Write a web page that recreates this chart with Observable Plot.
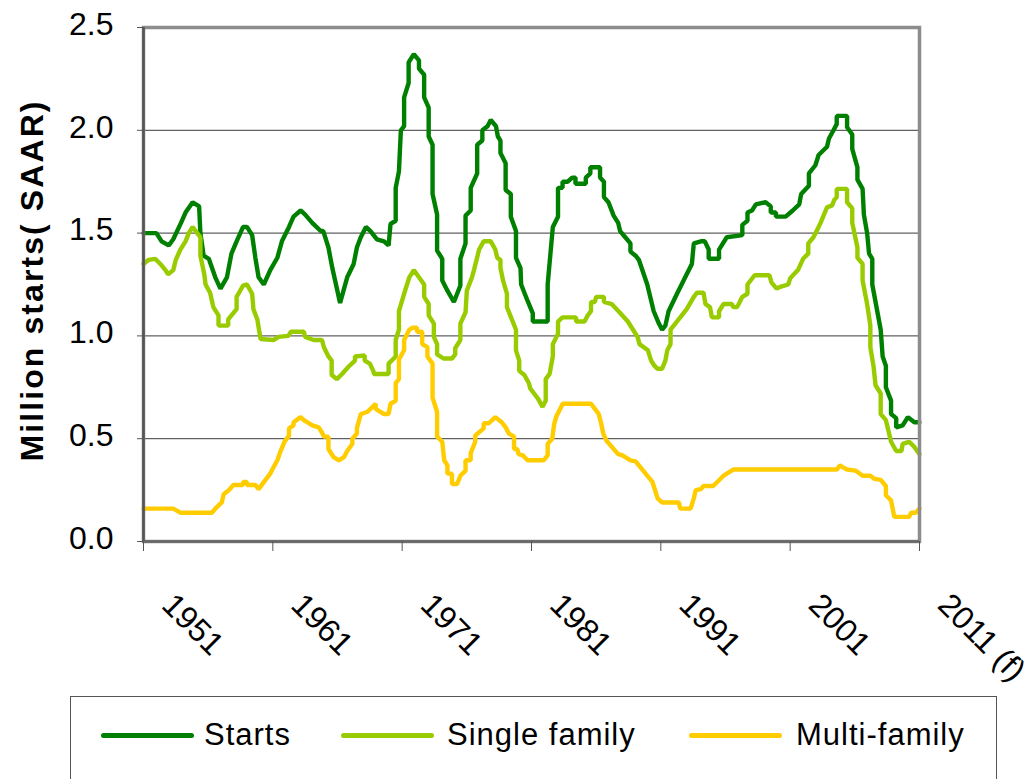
<!DOCTYPE html>
<html>
<head>
<meta charset="utf-8">
<script src="https://cdn.jsdelivr.net/npm/d3@7"></script>
<script src="https://cdn.jsdelivr.net/npm/@observablehq/plot@0.6"></script>
<style>
  html, body { margin: 0; padding: 0; background: #fff; }
  body { width: 1031px; height: 779px; overflow: hidden; position: relative; font-family: "Liberation Sans", Arial, sans-serif; }
  #chart svg { display: block; }
  #legend { position: absolute; left: 70px; top: 696px; width: 927px; height: 140px; border: 1px solid #555; box-sizing: border-box; background: #fff; }
  .sw { position: absolute; height: 5px; border-radius: 3px; top: 36px; }
  .lt { position: absolute; top: 22px; font-size: 31px; line-height: 31px; letter-spacing: 1px; color: #000; white-space: nowrap; }
</style>
</head>
<body>
<div id="chart"></div>
<div id="legend"></div>
<script>
// ---- data (year, million starts SAAR) ----
const starts = [
[1951.0,1.50],[1952.0,1.50],[1952.4,1.46],[1952.95,1.44],[1953.3,1.47],[1953.9,1.55],[1954.25,1.60],[1954.8,1.65],[1955.3,1.63],[1955.4,1.50],
[1955.65,1.39],[1956.05,1.375],[1956.55,1.285],[1956.95,1.23],[1957.45,1.285],[1957.8,1.40],[1958.2,1.46],[1958.7,1.53],[1959.0,1.53],[1959.4,1.49],
[1959.65,1.38],[1959.9,1.285],[1960.3,1.25],[1960.8,1.32],[1961.35,1.38],[1961.7,1.46],[1962.25,1.53],[1962.6,1.58],[1963.15,1.61],[1963.5,1.59],
[1964.05,1.55],[1964.7,1.51],[1964.9,1.51],[1965.3,1.43],[1965.6,1.33],[1966.2,1.16],[1966.75,1.285],[1967.25,1.35],[1967.5,1.43],[1967.8,1.48],
[1968.2,1.53],[1968.55,1.51],[1969.05,1.47],[1969.6,1.46],[1969.95,1.44],[1970.1,1.545],[1970.5,1.56],[1970.5,1.72],[1970.75,1.80],[1970.9,2.00],
[1971.15,2.02],[1971.15,2.16],[1971.5,2.23],[1971.5,2.33],[1971.9,2.37],[1972.3,2.34],[1972.3,2.30],[1972.7,2.27],[1972.7,2.16],[1973.05,2.11],
[1973.05,1.97],[1973.35,1.93],[1973.35,1.69],[1973.7,1.59],[1973.7,1.415],[1974.1,1.375],[1974.1,1.27],[1974.5,1.22],[1975.0,1.165],[1975.5,1.245],
[1975.5,1.375],[1975.9,1.45],[1975.9,1.585],[1976.3,1.61],[1976.3,1.72],[1976.8,1.79],[1976.8,1.93],[1977.2,1.95],[1977.2,2.00],[1977.6,2.02],
[1977.85,2.05],[1978.25,2.02],[1978.4,1.97],[1978.6,1.95],[1978.6,1.89],[1979.0,1.84],[1979.0,1.71],[1979.4,1.69],[1979.4,1.58],[1979.8,1.51],
[1979.8,1.38],[1980.15,1.33],[1980.2,1.25],[1980.7,1.17],[1981.1,1.11],[1981.1,1.07],[1982.25,1.07],[1982.25,1.25],[1982.65,1.53],[1983.05,1.58],
[1983.05,1.72],[1983.4,1.72],[1983.4,1.75],[1983.8,1.75],[1984.15,1.77],[1984.4,1.77],[1984.4,1.74],[1985.2,1.74],[1985.2,1.77],[1985.55,1.79],
[1985.55,1.82],[1986.3,1.82],[1986.3,1.77],[1986.6,1.75],[1986.6,1.675],[1986.95,1.65],[1987.35,1.585],[1987.7,1.55],[1987.85,1.51],[1988.25,1.48],
[1988.65,1.45],[1988.65,1.41],[1989.05,1.39],[1989.3,1.37],[1989.95,1.25],[1990.45,1.12],[1990.85,1.06],[1991.1,1.03],[1991.35,1.05],[1991.6,1.12],
[1992.25,1.205],[1993.0,1.30],[1993.4,1.35],[1993.55,1.45],[1994.1,1.46],[1994.4,1.46],[1994.7,1.42],[1994.7,1.375],[1995.5,1.375],[1995.5,1.42],
[1995.85,1.455],[1996.1,1.48],[1997.3,1.49],[1997.3,1.54],[1997.7,1.56],[1997.7,1.60],[1998.05,1.61],[1998.35,1.64],[1999.1,1.65],[1999.5,1.63],
[1999.5,1.60],[1999.9,1.60],[1999.9,1.58],[2000.65,1.58],[2001.2,1.61],[2001.7,1.64],[2001.85,1.69],[2002.45,1.73],[2002.45,1.79],[2002.95,1.83],
[2003.2,1.88],[2003.85,1.92],[2004.0,1.96],[2004.35,2.00],[2004.6,2.03],[2004.6,2.07],[2005.4,2.07],[2005.4,2.015],[2005.8,1.98],[2005.8,1.91],
[2006.2,1.82],[2006.2,1.76],[2006.6,1.715],[2006.7,1.59],[2006.95,1.50],[2007.1,1.40],[2007.35,1.375],[2007.35,1.25],[2008.0,1.03],[2008.15,0.90],
[2008.4,0.855],[2008.4,0.75],[2008.8,0.685],[2008.8,0.62],[2009.2,0.60],[2009.2,0.555],[2009.7,0.565],[2010.1,0.605],[2010.6,0.58],[2011.0,0.58]
];
const singleFamily = [
[1951.0,1.35],[1951.4,1.37],[1951.9,1.375],[1952.3,1.35],[1952.7,1.32],[1952.9,1.30],[1953.3,1.32],[1953.5,1.37],[1953.85,1.42],[1954.25,1.46],
[1954.5,1.50],[1954.8,1.53],[1955.15,1.50],[1955.4,1.48],[1955.4,1.39],[1955.7,1.30],[1955.8,1.25],[1956.15,1.21],[1956.4,1.14],[1956.8,1.10],
[1956.8,1.05],[1957.55,1.05],[1957.55,1.08],[1958.2,1.13],[1958.2,1.19],[1958.7,1.245],[1959.0,1.25],[1959.4,1.205],[1959.5,1.13],[1959.8,1.08],
[1960.05,0.985],[1961.05,0.98],[1961.45,0.995],[1962.2,1.00],[1962.4,1.02],[1963.4,1.02],[1963.5,0.995],[1964.15,0.98],[1964.8,0.98],[1964.95,0.945],
[1965.3,0.90],[1965.55,0.88],[1965.55,0.81],[1965.95,0.79],[1966.35,0.815],[1966.85,0.85],[1967.35,0.88],[1967.35,0.90],[1968.1,0.905],[1968.1,0.88],
[1968.5,0.865],[1968.8,0.825],[1968.8,0.815],[1969.95,0.815],[1969.95,0.865],[1970.5,0.90],[1970.5,0.98],[1970.75,1.03],[1970.75,1.12],[1971.15,1.205],
[1971.55,1.285],[1971.9,1.32],[1972.3,1.285],[1972.7,1.25],[1972.7,1.19],[1973.05,1.155],[1973.05,1.10],[1973.45,1.06],[1973.45,0.995],[1973.7,0.96],
[1973.7,0.91],[1974.2,0.89],[1974.85,0.89],[1975.1,0.91],[1975.1,0.94],[1975.5,0.98],[1975.5,1.06],[1975.9,1.115],[1976.0,1.22],[1976.4,1.285],
[1976.55,1.32],[1976.95,1.42],[1977.3,1.46],[1977.85,1.46],[1978.2,1.42],[1978.35,1.38],[1978.6,1.37],[1978.6,1.33],[1978.8,1.27],[1979.1,1.205],
[1979.1,1.14],[1979.8,1.03],[1979.8,0.93],[1980.05,0.88],[1980.05,0.83],[1980.45,0.81],[1980.8,0.77],[1980.9,0.745],[1981.2,0.72],[1981.5,0.695],
[1981.85,0.655],[1982.1,0.685],[1982.1,0.79],[1982.4,0.815],[1982.65,0.90],[1982.65,0.96],[1983.05,1.01],[1983.05,1.07],[1983.4,1.09],[1984.45,1.09],
[1984.45,1.07],[1985.1,1.07],[1985.35,1.10],[1985.6,1.12],[1985.6,1.165],[1985.9,1.165],[1986.0,1.19],[1986.6,1.19],[1986.6,1.165],[1987.2,1.155],
[1987.8,1.115],[1988.45,1.07],[1988.85,1.03],[1989.2,0.995],[1989.35,0.96],[1990.0,0.93],[1990.25,0.88],[1990.5,0.855],[1990.75,0.84],[1991.1,0.84],
[1991.35,0.88],[1991.5,0.93],[1991.75,0.96],[1991.75,1.03],[1992.5,1.09],[1993.0,1.13],[1993.55,1.19],[1993.8,1.21],[1994.3,1.21],[1994.45,1.155],
[1994.8,1.14],[1994.95,1.09],[1995.5,1.09],[1995.5,1.12],[1995.85,1.155],[1996.5,1.155],[1996.6,1.14],[1996.9,1.14],[1997.3,1.19],[1997.7,1.205],
[1997.7,1.25],[1998.25,1.295],[1999.4,1.295],[1999.55,1.26],[1999.95,1.23],[2000.3,1.24],[2000.85,1.25],[2001.0,1.28],[2001.6,1.32],[2002.0,1.375],
[2002.4,1.40],[2002.4,1.45],[2002.8,1.48],[2003.2,1.53],[2003.35,1.55],[2003.85,1.625],[2004.25,1.635],[2004.4,1.66],[2004.6,1.675],[2004.6,1.715],
[2005.4,1.715],[2005.4,1.65],[2005.8,1.62],[2005.8,1.55],[2006.2,1.43],[2006.2,1.38],[2006.6,1.35],[2006.6,1.27],[2006.95,1.155],[2007.2,1.05],
[2007.2,0.945],[2007.45,0.85],[2007.6,0.76],[2008.0,0.72],[2008.0,0.62],[2008.4,0.59],[2008.65,0.525],[2008.8,0.485],[2009.2,0.44],[2009.6,0.44],
[2009.7,0.475],[2010.2,0.485],[2010.6,0.46],[2011.0,0.425]
];
const multiFamily = [
[1951.0,0.16],[1953.3,0.16],[1953.85,0.14],[1956.3,0.14],[1956.55,0.16],[1957.05,0.19],[1957.2,0.23],[1957.6,0.25],[1957.95,0.275],[1958.7,0.275],
[1958.7,0.29],[1959.0,0.29],[1959.0,0.275],[1959.65,0.275],[1959.9,0.255],[1960.2,0.28],[1960.8,0.33],[1961.0,0.355],[1961.35,0.395],[1961.6,0.44],
[1961.9,0.485],[1962.25,0.515],[1962.25,0.55],[1962.6,0.565],[1962.6,0.58],[1963.15,0.605],[1963.4,0.59],[1964.05,0.565],[1964.55,0.555],[1964.8,0.53],
[1964.95,0.51],[1965.3,0.51],[1965.3,0.45],[1965.7,0.41],[1966.1,0.395],[1966.5,0.41],[1966.75,0.44],[1967.15,0.475],[1967.15,0.50],[1967.5,0.525],
[1967.5,0.55],[1967.8,0.62],[1968.3,0.63],[1968.55,0.645],[1968.95,0.67],[1968.95,0.645],[1969.6,0.62],[1969.95,0.62],[1970.1,0.67],[1970.5,0.685],
[1970.5,0.77],[1970.75,0.79],[1970.75,0.885],[1971.15,0.93],[1971.15,0.98],[1971.55,1.03],[1971.8,1.04],[1972.15,1.04],[1972.15,1.02],[1972.55,1.02],
[1972.55,0.96],[1972.95,0.945],[1972.95,0.90],[1973.35,0.865],[1973.35,0.70],[1973.7,0.63],[1973.7,0.51],[1974.1,0.485],[1974.25,0.395],[1974.5,0.37],
[1974.5,0.33],[1974.85,0.33],[1974.85,0.28],[1975.25,0.28],[1975.5,0.32],[1975.9,0.345],[1975.9,0.395],[1976.3,0.395],[1976.3,0.43],[1976.65,0.485],
[1976.65,0.515],[1977.3,0.55],[1977.3,0.575],[1977.7,0.575],[1978.2,0.605],[1978.7,0.58],[1979.0,0.555],[1979.25,0.525],[1979.65,0.51],[1979.65,0.45],
[1979.9,0.45],[1980.0,0.425],[1980.3,0.42],[1980.7,0.395],[1981.95,0.395],[1982.25,0.42],[1982.25,0.475],[1982.6,0.50],[1982.75,0.57],[1982.9,0.605],
[1983.3,0.655],[1983.4,0.67],[1985.6,0.67],[1985.9,0.645],[1986.2,0.62],[1986.4,0.57],[1986.55,0.525],[1986.8,0.49],[1987.7,0.425],[1988.0,0.42],
[1988.65,0.395],[1989.05,0.39],[1989.95,0.32],[1990.35,0.29],[1990.6,0.24],[1990.75,0.21],[1991.1,0.19],[1992.4,0.19],[1992.5,0.16],[1993.3,0.16],
[1993.55,0.21],[1993.7,0.25],[1994.1,0.255],[1994.3,0.27],[1995.05,0.27],[1995.85,0.32],[1996.1,0.33],[1996.6,0.35],[2004.6,0.35],[2004.85,0.37],
[2005.1,0.36],[2005.4,0.35],[2006.05,0.345],[2006.6,0.32],[2007.2,0.32],[2007.5,0.305],[2008.0,0.30],[2008.4,0.27],[2008.4,0.225],[2008.8,0.20],
[2009.05,0.12],[2010.2,0.12],[2010.35,0.14],[2010.7,0.14],[2011.0,0.16]
];
const seriesNames = ["Starts", "Single family", "Multi-family"];
const seriesColors = ["#008000", "#99cc00", "#ffcc00"];
const xTickYears = [1951, 1961, 1971, 1981, 1991, 2001, 2011];
const xTickLabels = ["1951", "1961", "1971", "1981", "1991", "2001", "2011 (f)"];
const yTickValues = [0, 0.5, 1.0, 1.5, 2.0, 2.5];
const gridValues = [0.5, 1.0, 1.5, 2.0];
const yTitle = "Million starts( SAAR)";

// ---- build table ----
const rows = [];
[starts, singleFamily, multiFamily].forEach((arr, k) => {
  arr.forEach(([year, value]) => rows.push({series: seriesNames[k], year, value}));
});

const fmt = d3.format(".1f");
const plot = Plot.plot({
  width: 1031,
  height: 670,
  marginLeft: 143,
  marginRight: 112,
  marginTop: 27,
  marginBottom: 129,
  style: {fontFamily: "'Liberation Sans', Arial, sans-serif", background: "#fff", overflow: "visible"},
  x: {domain: [1951, 2011], axis: null, label: null},
  y: {domain: [0, 2.5], axis: null, label: null},
  color: {domain: seriesNames, range: seriesColors},
  marks: [
    Plot.ruleY(gridValues, {stroke: "#3a3a3a", strokeWidth: 1}),
    Plot.line(rows, {x: "year", y: "value", z: "series", stroke: "series", strokeWidth: 4.4, strokeLinejoin: "miter"}),
    Plot.frame({stroke: "#8c8c8c", strokeWidth: 3.5}),
    Plot.ruleX([1951], {stroke: "#555", strokeWidth: 2.5}),
    Plot.ruleY([0], {stroke: "#666", strokeWidth: 2.5}),
    Plot.axisY({ticks: yTickValues, tickSize: 6, tickFormat: () => "", stroke: "#555", label: null}),
    Plot.axisX({ticks: xTickYears, tickSize: 10, tickFormat: () => "", stroke: "#555", label: null}),
    Plot.text(yTickValues, {x: () => 1951, y: d => d, text: d => fmt(d), textAnchor: "end", dx: -30, dy: -3, fontSize: 32, fill: "#000"}),
    Plot.text(xTickYears, {x: d => d, y: () => 0, text: (d, i) => xTickLabels[i], rotate: 45, textAnchor: "start", dx: 24, dy: 58, fontSize: 32, fill: "#000"}),
    Plot.text([yTitle], {frameAnchor: "left", rotate: -90, textAnchor: "middle", dx: -111, dy: -3, fontSize: 32, fontWeight: "bold", fill: "#000", text: d => d})
  ]
});
document.getElementById("chart").appendChild(plot);
// stretch the axis title to the reference's length
d3.select(plot).selectAll("text").filter(function () { return this.textContent === yTitle; })
  .attr("textLength", 360).attr("lengthAdjust", "spacing");

// ---- legend (below the SVG) ----
const legend = document.getElementById("legend");
const swLeft = [30, 270, 618];
const txLeft = [133, 376, 725];
seriesNames.forEach((name, i) => {
  const sw = document.createElement("div");
  sw.className = "sw";
  sw.style.left = swLeft[i] + "px";
  sw.style.width = "93px";
  sw.style.background = seriesColors[i];
  legend.appendChild(sw);
  const t = document.createElement("div");
  t.className = "lt";
  t.style.left = txLeft[i] + "px";
  t.textContent = name;
  legend.appendChild(t);
});
</script>
</body>
</html>
